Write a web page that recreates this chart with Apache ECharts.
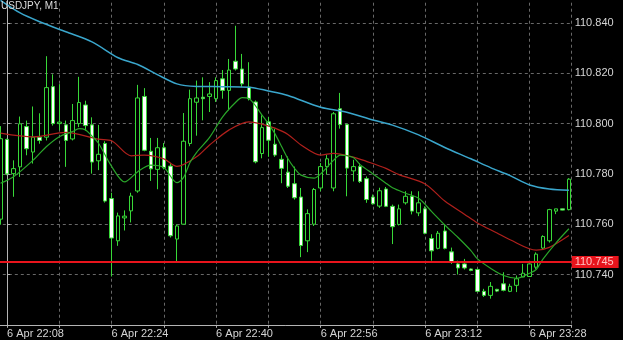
<!DOCTYPE html>
<html><head><meta charset="utf-8">
<script src="https://cdn.jsdelivr.net/npm/echarts@6/dist/echarts.min.js"></script>
<style>html,body{margin:0;padding:0;background:#000;}#c{width:623px;height:340px;}</style>
</head><body><div id="c"></div>
<script>
const chartTitle = 'USDJPY, M1';
const dateLabel = '6 Apr';
const times = ['22:07','22:08','22:09','22:10','22:11','22:12','22:13','22:14','22:15','22:16',
'22:17','22:18','22:19','22:20','22:21','22:22','22:23','22:24','22:25','22:26',
'22:27','22:28','22:29','22:30','22:31','22:32','22:33','22:34','22:35','22:36',
'22:37','22:38','22:39','22:40','22:41','22:42','22:43','22:44','22:45','22:46',
'22:47','22:48','22:49','22:50','22:51','22:52','22:53','22:54','22:55','22:56',
'22:57','22:58','22:59','23:00','23:01','23:02','23:03','23:04','23:05','23:06',
'23:07','23:08','23:09','23:10','23:11','23:12','23:13','23:14','23:15','23:16',
'23:17','23:18','23:19','23:20','23:21','23:22','23:23','23:24','23:25','23:26',
'23:27','23:28','23:29','23:30','23:31','23:32','23:33','23:34'];
const open = [110.7620,110.7937,110.7801,110.7828,110.7988,110.7887,110.7946,110.7946,110.8147,110.8000,
110.7995,110.7939,110.8000,110.8074,110.7995,110.7852,110.7921,110.7702,110.7534,110.7625,
110.7653,110.7732,110.8108,110.7890,110.7818,110.7904,110.7831,110.7541,110.7600,110.7921,
110.8085,110.8105,110.8108,110.8099,110.8178,110.8132,110.8248,110.8217,110.8145,110.8086,
110.7881,110.8007,110.7918,110.7858,110.7807,110.7761,110.7708,110.7534,110.7600,110.7744,
110.7829,110.7744,110.8059,110.7996,110.7812,110.7829,110.7781,110.7708,110.7672,110.7740,
110.7671,110.7599,110.7685,110.7711,110.7645,110.7661,110.7543,110.7504,110.7573,110.7490,
110.7442,110.7442,110.7422,110.7420,110.7333,110.7317,110.7341,110.7363,110.7333,110.7357,
110.7390,110.7392,110.7429,110.7505,110.7534,110.7652,110.7661,110.7658];
const close = [110.7940,110.7800,110.7821,110.7999,110.7900,110.7946,110.7933,110.8143,110.8000,110.8006,
110.7933,110.8012,110.8084,110.7992,110.7847,110.7878,110.7692,110.7545,110.7633,110.7632,
110.7712,110.8102,110.7894,110.7820,110.7904,110.7824,110.7554,110.7593,110.7930,110.8099,
110.8102,110.8099,110.8118,110.8171,110.8132,110.8213,110.8217,110.8158,110.8099,110.7848,
110.7984,110.7934,110.7875,110.7822,110.7751,110.7705,110.7515,110.7642,110.7738,110.7829,
110.7860,110.8039,110.7996,110.7823,110.7829,110.7770,110.7698,110.7681,110.7733,110.7671,
110.7590,110.7661,110.7711,110.7652,110.7685,110.7564,110.7494,110.7564,110.7504,110.7449,
110.7426,110.7426,110.7416,110.7333,110.7317,110.7353,110.7334,110.7337,110.7353,110.7383,
110.7405,110.7442,110.7481,110.7551,110.7658,110.7661,110.7656,110.7779];
const low = [110.7598,110.7795,110.7709,110.7788,110.7874,110.7841,110.7920,110.7933,110.7992,110.7974,
110.7828,110.7933,110.7986,110.7972,110.7801,110.7815,110.7686,110.7392,110.7514,110.7575,
110.7607,110.7725,110.7890,110.7772,110.7739,110.7818,110.7547,110.7451,110.7600,110.7910,
110.7952,110.8013,110.8046,110.8086,110.8099,110.8053,110.8211,110.8145,110.8092,110.7842,
110.7862,110.7868,110.7868,110.7763,110.7744,110.7698,110.7469,110.7489,110.7593,110.7731,
110.7797,110.7731,110.7980,110.7711,110.7770,110.7764,110.7685,110.7678,110.7665,110.7668,
110.7521,110.7595,110.7678,110.7639,110.7632,110.7560,110.7455,110.7500,110.7500,110.7442,
110.7400,110.7420,110.7413,110.7330,110.7311,110.7304,110.7330,110.7333,110.7330,110.7330,
110.7390,110.7390,110.7422,110.7500,110.7527,110.7640,110.7655,110.7655];
const high = [110.7990,110.7940,110.7854,110.8028,110.8012,110.8068,110.8041,110.8268,110.8196,110.8157,
110.8012,110.8078,110.8186,110.8091,110.8025,110.7995,110.7930,110.7725,110.7646,110.7655,
110.7725,110.8154,110.8141,110.7943,110.7943,110.7923,110.7844,110.7600,110.8042,110.8135,
110.8171,110.8184,110.8165,110.8184,110.8213,110.8257,110.8389,110.8277,110.8244,110.8092,
110.8033,110.8026,110.7980,110.7875,110.7869,110.7829,110.7744,110.7659,110.7744,110.7843,
110.7875,110.8046,110.8122,110.8000,110.7856,110.7843,110.7790,110.7718,110.7745,110.7748,
110.7678,110.7678,110.7731,110.7731,110.7731,110.7671,110.7560,110.7573,110.7600,110.7507,
110.7455,110.7462,110.7424,110.7423,110.7343,110.7370,110.7343,110.7409,110.7363,110.7396,
110.7442,110.7442,110.7488,110.7556,110.7661,110.7661,110.7662,110.7783];
const maSlowIdx = [0,3,6,10,14,18,21,24,27,30,34,38,41,44,49,53,57,60,64,68,72,75,78,81,84,87];
const maSlow = [110.8490,110.8440,110.8405,110.8365,110.8325,110.8262,110.8235,110.8195,110.8158,110.8148,110.8147,110.8145,110.8130,110.8112,110.8065,110.8045,110.8014,110.7994,110.7955,110.7905,110.7860,110.7825,110.7793,110.7756,110.7740,110.7735];
const maMidIdx = [0,5,10,15,17,20,22,25,27,30,32,35,38,40,42,44,46,49,51,54,56,59,61,65,68,71,73,76,78,82,84,87];
const maMid = [110.7962,110.7947,110.7965,110.7938,110.7932,110.7872,110.7875,110.7860,110.7830,110.7868,110.7915,110.7975,110.8007,110.7998,110.7982,110.7957,110.7915,110.7875,110.7882,110.7867,110.7850,110.7822,110.7797,110.7760,110.7692,110.7640,110.7605,110.7565,110.7538,110.7497,110.7508,110.7555];
const maFastIdx = [0,2,5,7,9,11,12,13,14,15,17,19,21,23,25,27,28,29,30,32,34,36,37,38,40,41,42,43,44,45,46,48,49,51,52,54,55,57,59,60,62,64,66,68,70,72,73,75,77,79,81,82,83,85,87];
const maFast = [110.7763,110.7789,110.7855,110.7908,110.7948,110.7968,110.7980,110.7975,110.7950,110.7922,110.7830,110.7768,110.7809,110.7835,110.7825,110.7765,110.7785,110.7845,110.7885,110.7945,110.8027,110.8085,110.8103,110.8100,110.8035,110.8000,110.7960,110.7910,110.7860,110.7822,110.7795,110.7783,110.7800,110.7855,110.7875,110.7865,110.7838,110.7800,110.7763,110.7745,110.7723,110.7703,110.7650,110.7597,110.7548,110.7495,110.7462,110.7425,110.7396,110.7385,110.7405,110.7420,110.7460,110.7525,110.7582];
const priceLevel = 110.745;
const yTickLow = 110.74, yTickHigh = 110.84;

// x value = minutes from first labelled tick (index 1)
const xOf = i => i - 1;
const FONT = 'Liberation Sans';
const chart = echarts.init(document.getElementById('c'), null, {renderer: 'canvas'});
const lineSeries = (idx, vals, color, w) => ({
  type: 'line', data: idx.map((k, j) => [xOf(k), vals[j]]), smooth: 0.3,
  symbol: 'none', lineStyle: {color: color, width: w}, z: 3, silent: true
});
chart.setOption({
  backgroundColor: '#000000',
  animation: false,
  title: {text: chartTitle, left: 1, top: 1, padding: 0,
    textStyle: {color: '#dcdcdc', fontSize: 10, fontWeight: 'normal', fontFamily: FONT}},
  grid: {left: -45.2, right: 51.3, top: -27.3, bottom: 15.2, containLabel: false, outerBoundsMode: 'none'},
  xAxis: {
    type: 'value', min: -8, max: 86.43, interval: 8,
    axisLine: {show: true, onZero: false, lineStyle: {color: '#b4b4b4', width: 1}},
    axisTick: {show: true, length: 3, lineStyle: {color: '#b4b4b4'}},
    axisLabel: {color: '#d4d4d4', fontSize: 11, fontFamily: FONT, align: 'left', margin: 4,
      showMinLabel: true, showMaxLabel: true,
      formatter: v => {
        const u = Math.round(v);
        if (Math.abs(v - u) > 1e-6 || u < 0 || u % 16 !== 0) return '';
        return dateLabel + ' ' + times[u + 1];
      }},
    splitLine: {show: true, lineStyle: {color: '#686868', type: [3, 3], width: 1}}
  },
  yAxis: {
    type: 'value', position: 'right', min: 110.72, max: 110.86, interval: 0.02,
    axisLine: {show: true, lineStyle: {color: '#b4b4b4', width: 1}},
    axisTick: {show: true, length: 3, lineStyle: {color: '#b4b4b4'}},
    axisLabel: {color: '#d4d4d4', fontSize: 11, fontFamily: FONT, margin: 3,
      formatter: v => (v > yTickLow - 0.005 && v < yTickHigh + 0.005) ? v.toFixed(3) : ''},
    splitLine: {show: true, lineStyle: {color: '#686868', type: [3, 3], width: 1}}
  },
  series: [
    {
      type: 'candlestick', barWidth: 4,
      dimensions: ['t', 'open', 'close', 'lowest', 'highest'],
      encode: {x: 't', y: ['open', 'close', 'lowest', 'highest']},
      data: times.map((_, i) => [xOf(i), open[i], close[i], low[i], high[i]]),
      itemStyle: {color: '#000000', color0: '#ffffff', borderColor: '#38d838', borderColor0: '#38d838', borderWidth: 1},
      z: 2,
      markLine: {
        silent: true, symbol: ['none', 'none'], animation: false, precision: 4,
        data: [{yAxis: priceLevel}],
        lineStyle: {color: '#e8141c', width: 2, type: 'solid'},
        label: {show: true, position: 'end', distance: 0, formatter: priceLevel.toFixed(3),
          color: '#ffc4c4', backgroundColor: '#e8141c', padding: [1, 5, 0, 3], fontSize: 11, fontFamily: FONT},
        z: 10
      }
    },
    lineSeries(maSlowIdx, maSlow, '#3aa6cc', 1.5),
    lineSeries(maMidIdx, maMid, '#b0201c', 1.2),
    lineSeries(maFastIdx, maFast, '#2aa62a', 1.2)
  ]
});
</script></body></html>
